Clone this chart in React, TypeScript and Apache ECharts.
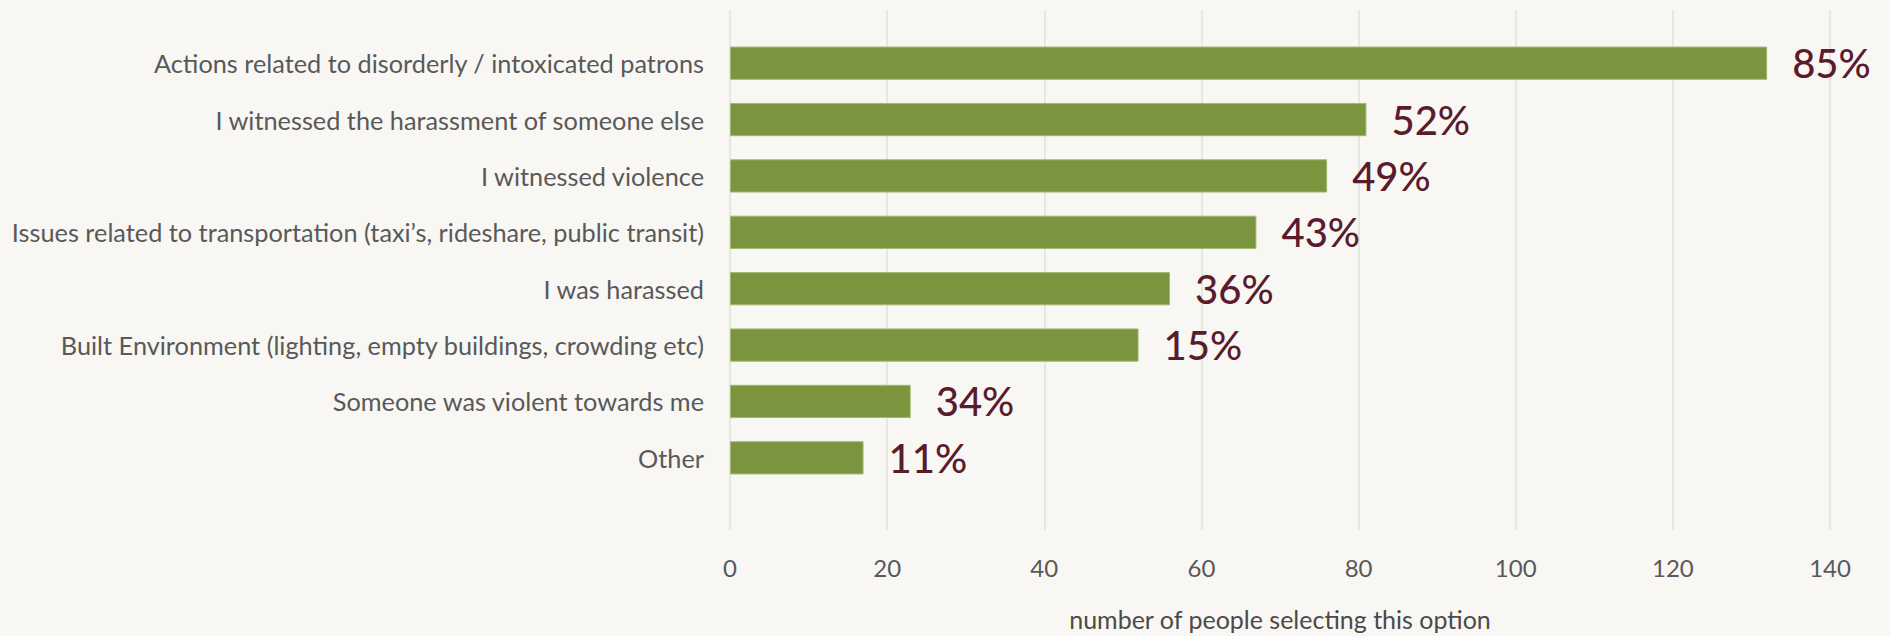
import React, { useEffect, useRef } from "react";
import * as echarts from "echarts";

const categories = [
  "Actions related to disorderly / intoxicated patrons",
  "I witnessed the harassment of someone else",
  "I witnessed violence",
  "Issues related to transportation (taxi’s, rideshare, public transit)",
  "I was harassed",
  "Built Environment (lighting, empty buildings, crowding etc)",
  "Someone was violent towards me",
  "Other",
];
const counts = [132, 81, 76, 67, 56, 52, 23, 17];
const percentLabels = ["85%", "52%", "49%", "43%", "36%", "15%", "34%", "11%"];
const xTicks = [0, 20, 40, 60, 80, 100, 120, 140];
const axisTitle = "number of people selecting this option";

export default function App() {
  const ref = useRef<HTMLDivElement>(null);
  useEffect(() => {
    document.body.style.margin = "0";
    const chart = echarts.init(ref.current!, null, { renderer: "svg" });
    const xMin = xTicks[0];
    const xMax = xTicks[xTicks.length - 1];
    const step = xTicks[1] - xTicks[0];
    chart.setOption({
      animation: false,
      backgroundColor: "#f8f7f3",
      grid: [
        { left: 730, right: 60, top: 10, bottom: 94 },
        { left: 730, right: 60, top: 35, bottom: 150 },
      ],
      xAxis: [
        {
          type: "value",
          gridIndex: 0,
          min: xMin,
          max: xMax,
          interval: step,
          axisLine: { show: false },
          axisTick: { show: false },
          splitLine: { show: true, lineStyle: { color: "#e3e0db", width: 1.5 } },
          axisLabel: {
            margin: 25,
            color: "#595959",
            fontFamily: "Lato",
            fontSize: 24,
          },
          name: axisTitle,
          nameLocation: "middle",
          nameGap: 76,
          nameTextStyle: { color: "#4a4a4a", fontFamily: "Lato", fontSize: 25 },
        },
        {
          type: "value",
          gridIndex: 1,
          min: xMin,
          max: xMax,
          interval: step,
          show: false,
          splitLine: { show: false },
        },
      ],
      yAxis: [
        { type: "value", gridIndex: 0, show: false, splitLine: { show: false } },
        {
          type: "category",
          gridIndex: 1,
          data: categories,
          inverse: true,
          axisLine: { show: false },
          axisTick: { show: false },
          axisLabel: {
            margin: 26,
            color: "#595959",
            fontFamily: "Lato",
            fontSize: 25.3,
          },
        },
      ],
      series: [
        {
          type: "bar",
          xAxisIndex: 1,
          yAxisIndex: 1,
          data: counts,
          barCategoryGap: "41%",
          itemStyle: { color: "#7a953e", borderColor: "#a3b874", borderWidth: 1 },
          label: {
            show: true,
            position: "right",
            distance: 25,
            offset: [0, 0],
            formatter: (p: any) => percentLabels[p.dataIndex],
            color: "#5a1b2c",
            fontFamily: "Lato",
            fontWeight: 500,
            fontSize: 40,
          },
        },
      ],
    });
    return () => chart.dispose();
  }, []);
  return <div ref={ref} style={{ width: 1890, height: 636 }} />;
}
